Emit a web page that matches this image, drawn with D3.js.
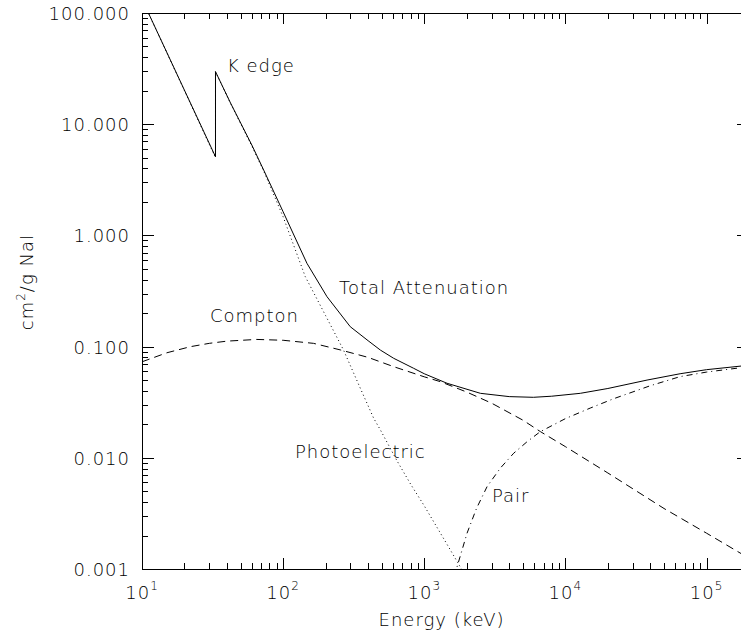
<!DOCTYPE html>
<html>
<head>
<meta charset="utf-8">
<script src="https://cdn.jsdelivr.net/npm/d3@7"></script>
<style>
body { margin: 0; background: #fff; }
text.lbl { font-family: "DejaVu Sans", sans-serif; font-weight: 200; font-size: 18px; letter-spacing: 1px; fill: #000; }
.axis { shape-rendering: crispEdges; }
.axis line, .axis path { stroke: #000; stroke-width: 1px; }
</style>
</head>
<body>
<svg id="chart" width="741" height="632"></svg>
<script>
// mass attenuation of NaI (keV, cm2/g)
var totalE = [10, 33.17, 33.17, 42.4, 60, 72.8, 100, 147.5, 204.6, 299, 400, 489, 607, 841, 1000, 1450, 2500, 4000, 5930, 8000, 12760, 20000, 37900, 65000, 100000, 200000];
var totalV = [133, 5.1, 29.7, 15.5, 6.5, 3.87, 1.63, 0.561, 0.281, 0.151, 0.113, 0.093, 0.0785, 0.0638, 0.057, 0.0468, 0.038, 0.0355, 0.035, 0.0358, 0.038, 0.042, 0.050, 0.057, 0.062, 0.068];

var photoE = [10, 20, 33.17, 33.17, 42.4, 60, 72.8, 100, 143.5, 200, 268, 350, 438, 489, 641, 800, 1000, 1500, 2000, 2500];
var photoV = [133, 20.0, 5.0, 29.6, 15.4, 6.35, 3.8, 1.47, 0.426, 0.19, 0.093, 0.043, 0.0227, 0.0178, 0.0094, 0.0058, 0.0037, 0.00155, 0.00083, 0.0005];

var comptonE = [10, 15, 22, 30, 40, 65, 100, 164, 254, 400, 607, 1000, 1300, 2000, 3000, 5000, 6650, 10000, 20000, 50000, 100000, 200000];
var comptonV = [0.073, 0.088, 0.0998, 0.107, 0.112, 0.116, 0.114, 0.107, 0.0934, 0.080, 0.066, 0.0535, 0.0484, 0.039, 0.031, 0.0218, 0.0172, 0.0126, 0.0073, 0.0035, 0.0021, 0.00125];

var pairE = [1250, 1500, 1690, 2010, 2344, 2785, 3467, 4305, 5370, 6650, 10000, 15000, 22000, 40000, 65000, 100000, 200000];
var pairV = [0.0001, 0.0005, 0.001, 0.0021, 0.0035, 0.0055, 0.0081, 0.011, 0.014, 0.0172, 0.0225, 0.028, 0.034, 0.0445, 0.0537, 0.059, 0.066];

var xDomain = [10, 2e5];
var yDomain = [0.001, 100];
var xMajor = [10, 100, 1000, 10000, 100000];
var yMajor = [100, 10, 1, 0.1, 0.01, 0.001];

var labels = [
  {text: "K edge", x: 227, y: 72},
  {text: "Total Attenuation", x: 339, y: 294},
  {text: "Compton", x: 210, y: 322},
  {text: "Photoelectric", x: 295, y: 458},
  {text: "Pair", x: 492, y: 502}
];

// plot box (right edge falls just outside the window, as in the original)
var pL = 142, pR = 749, pT = 13, pB = 569;

var svg = d3.select("#chart");

var x = d3.scaleLog().domain(xDomain).range([pL, pR]);
var y = d3.scaleLog().domain(yDomain).range([pB, pT]);

svg.append("defs").append("clipPath").attr("id", "plotclip")
  .append("rect").attr("x", pL).attr("y", pT)
  .attr("width", pR - pL).attr("height", pB - pT);

var line = d3.line().x(d => x(d[0])).y(d => y(d[1]));

function pairs(es, vs) { return es.map((e, i) => [e, vs[i]]); }

var curves = [
  {data: pairs(totalE, totalV), dash: null},
  {data: pairs(photoE, photoV), dash: "1,3"},
  {data: pairs(comptonE, comptonV), dash: "8,5"},
  {data: pairs(pairE, pairV), dash: "6,4,1,4"}
];

svg.append("g").attr("clip-path", "url(#plotclip)")
  .selectAll("path")
  .data(curves)
  .join("path")
  .attr("fill", "none")
  .attr("stroke", "#000")
  .attr("stroke-width", 1)
  .attr("stroke-dasharray", d => d.dash)
  .attr("d", d => line(d.data));

// ticks on all four sides: long at decades, short in between
var xMinor = x.ticks().filter(t => xMajor.indexOf(t) < 0);
var yMinor = y.ticks().filter(t => yMajor.indexOf(t) < 0);

function addAxis(axisFn, scale, vals, size, tx, ty) {
  svg.append("g")
    .attr("class", "axis")
    .attr("transform", "translate(" + tx + "," + ty + ")")
    .call(axisFn(scale).tickValues(vals).tickSizeInner(size).tickSizeOuter(0).tickFormat(""))
    .call(g => g.selectAll("text").remove());
}
addAxis(d3.axisBottom, x, xMajor, -11, 0, pB);
addAxis(d3.axisBottom, x, xMinor, -6, 0, pB);
addAxis(d3.axisTop, x, xMajor, -11, 0, pT);
addAxis(d3.axisTop, x, xMinor, -6, 0, pT);
addAxis(d3.axisLeft, y, yMajor, -12, pL, 0);
addAxis(d3.axisLeft, y, yMinor, -6, pL, 0);
addAxis(d3.axisRight, y, yMajor, -12, pR, 0);
addAxis(d3.axisRight, y, yMinor, -6, pR, 0);

// y tick labels
svg.append("g").selectAll("text")
  .data(yMajor)
  .join("text")
  .attr("class", "lbl")
  .attr("x", 130)
  .attr("y", d => y(d) + 7)
  .attr("text-anchor", "end")
  .text(d => d.toFixed(3));

// x tick labels 10^n
var xl = svg.append("g").selectAll("text")
  .data(xMajor)
  .join("text")
  .attr("class", "lbl")
  .attr("x", d => x(d))
  .attr("y", 599)
  .attr("text-anchor", "middle");
xl.append("tspan").text("10");
xl.append("tspan").attr("dy", -9).style("font-size", "12px").text(d => Math.round(Math.log10(d)));

// axis titles
svg.append("text").attr("class", "lbl")
  .attr("x", (pL + 741) / 2).attr("y", 626)
  .attr("text-anchor", "middle").text("Energy (keV)");

var yt = svg.append("text").attr("class", "lbl")
  .attr("transform", "translate(33,282) rotate(-90)")
  .attr("text-anchor", "middle");
yt.append("tspan").text("cm");
yt.append("tspan").attr("dy", -8).style("font-size", "12px").text("2");
yt.append("tspan").attr("dy", 8).text("/g NaI");

// curve labels
svg.append("g").selectAll("text")
  .data(labels)
  .join("text")
  .attr("class", "lbl")
  .attr("x", d => d.x)
  .attr("y", d => d.y)
  .text(d => d.text);
</script>
</body>
</html>
